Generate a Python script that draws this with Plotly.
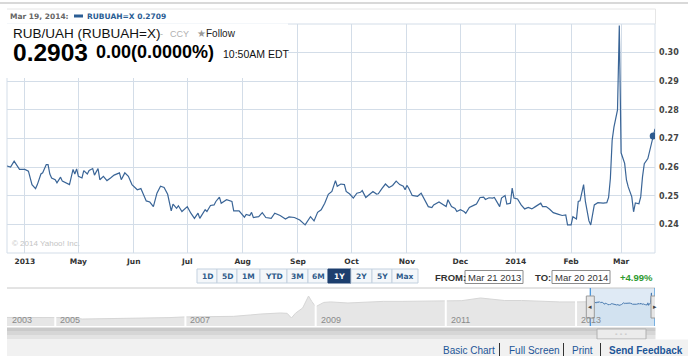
import plotly.graph_objects as go

# ---------------- data ----------------
dates = [
    "2013-03-22", "2013-03-24", "2013-03-26", "2013-03-29", "2013-04-01", "2013-04-03", "2013-04-05",
    "2013-04-07", "2013-04-08", "2013-04-10", "2013-04-11", "2013-04-13", "2013-04-14", "2013-04-15",
    "2013-04-16", "2013-04-18", "2013-04-19", "2013-04-21", "2013-04-22", "2013-04-24", "2013-04-26",
    "2013-04-28", "2013-04-29", "2013-04-30", "2013-05-01", "2013-05-03", "2013-05-04", "2013-05-06",
    "2013-05-07", "2013-05-09", "2013-05-10", "2013-05-12", "2013-05-13", "2013-05-15", "2013-05-17",
    "2013-05-19", "2013-05-21", "2013-05-24", "2013-05-25", "2013-05-27", "2013-05-29", "2013-05-31",
    "2013-06-03", "2013-06-05", "2013-06-08", "2013-06-10", "2013-06-12", "2013-06-14", "2013-06-16",
    "2013-06-18", "2013-06-20", "2013-06-22", "2013-06-23", "2013-06-25", "2013-06-26", "2013-06-28",
    "2013-07-01", "2013-07-03", "2013-07-05", "2013-07-07", "2013-07-08", "2013-07-11", "2013-07-12",
    "2013-07-14", "2013-07-16", "2013-07-17", "2013-07-19", "2013-07-20", "2013-07-23", "2013-07-26",
    "2013-07-27", "2013-07-30", "2013-08-02", "2013-08-03", "2013-08-05", "2013-08-06", "2013-08-07",
    "2013-08-10", "2013-08-12", "2013-08-14", "2013-08-17", "2013-08-19", "2013-08-22", "2013-08-25",
    "2013-08-27", "2013-08-30", "2013-09-02", "2013-09-05", "2013-09-08", "2013-09-10", "2013-09-12",
    "2013-09-14", "2013-09-16", "2013-09-18", "2013-09-20", "2013-09-22", "2013-09-23", "2013-09-25",
    "2013-09-27", "2013-09-28", "2013-09-30", "2013-10-02", "2013-10-04", "2013-10-06", "2013-10-07",
    "2013-10-09", "2013-10-11", "2013-10-13", "2013-10-15", "2013-10-16", "2013-10-18", "2013-10-20",
    "2013-10-22", "2013-10-24", "2013-10-26", "2013-10-28", "2013-10-30", "2013-10-31", "2013-11-01",
    "2013-11-02", "2013-11-04", "2013-11-07", "2013-11-09", "2013-11-11", "2013-11-13", "2013-11-15",
    "2013-11-16", "2013-11-19", "2013-11-21", "2013-11-23", "2013-11-24", "2013-11-26", "2013-11-28",
    "2013-11-29", "2013-12-01", "2013-12-03", "2013-12-04", "2013-12-06", "2013-12-09", "2013-12-10",
    "2013-12-12", "2013-12-14", "2013-12-15", "2013-12-17", "2013-12-19", "2013-12-20", "2013-12-23",
    "2013-12-24", "2013-12-26", "2013-12-27", "2013-12-29", "2013-12-30", "2013-12-31", "2014-01-02",
    "2014-01-04", "2014-01-06", "2014-01-08", "2014-01-10", "2014-01-12", "2014-01-15", "2014-01-16",
    "2014-01-18", "2014-01-20", "2014-01-22", "2014-01-25", "2014-01-27", "2014-01-29", "2014-01-30",
    "2014-02-01", "2014-02-02", "2014-02-04", "2014-02-05", "2014-02-06", "2014-02-08", "2014-02-09",
    "2014-02-11", "2014-02-12", "2014-02-13", "2014-02-14", "2014-02-16", "2014-02-19", "2014-02-21",
    "2014-02-22", "2014-02-23", "2014-02-24", "2014-02-25", "2014-02-26", "2014-02-27", "2014-02-28",
    "2014-03-01", "2014-03-03", "2014-03-04", "2014-03-05", "2014-03-06", "2014-03-07", "2014-03-08",
    "2014-03-09", "2014-03-11", "2014-03-12", "2014-03-13", "2014-03-14", "2014-03-16", "2014-03-17",
    "2014-03-19", "2014-03-20",
]
rates = [
    0.2604, 0.2600, 0.2621, 0.2592, 0.2592, 0.2586, 0.2539,
    0.2525, 0.2539, 0.2576, 0.2580, 0.2609, 0.2609, 0.2576,
    0.2562, 0.2556, 0.2545, 0.2565, 0.2551, 0.2545, 0.2539,
    0.2592, 0.2576, 0.2594, 0.2568, 0.2562, 0.2588, 0.2576,
    0.2588, 0.2595, 0.2572, 0.2595, 0.2556, 0.2568, 0.2553,
    0.2562, 0.2572, 0.2580, 0.2556, 0.2580, 0.2568, 0.2539,
    0.2521, 0.2525, 0.2482, 0.2478, 0.2462, 0.2509, 0.2533,
    0.2529, 0.2505, 0.2447, 0.2471, 0.2456, 0.2465, 0.2445,
    0.2462, 0.2439, 0.2421, 0.2439, 0.2421, 0.2451, 0.2445,
    0.2466, 0.2468, 0.2480, 0.2495, 0.2474, 0.2486, 0.2480,
    0.2447, 0.2447, 0.2425, 0.2435, 0.2431, 0.2442, 0.2424,
    0.2427, 0.2441, 0.2424, 0.2421, 0.2439, 0.2431, 0.2419,
    0.2426, 0.2424, 0.2415, 0.2398, 0.2427, 0.2412, 0.2442,
    0.2451, 0.2474, 0.2505, 0.2515, 0.2553, 0.2533, 0.2541,
    0.2539, 0.2515, 0.2506, 0.2492, 0.2509, 0.2512, 0.2518,
    0.2494, 0.2506, 0.2515, 0.2506, 0.2507, 0.2525, 0.2541,
    0.2529, 0.2536, 0.2551, 0.2539, 0.2533, 0.2521, 0.2536,
    0.2527, 0.2501, 0.2498, 0.2509, 0.2486, 0.2462, 0.2459,
    0.2468, 0.2478, 0.2471, 0.2462, 0.2486, 0.2462, 0.2456,
    0.2445, 0.2451, 0.2445, 0.2439, 0.2459, 0.2468, 0.2471,
    0.2494, 0.2495, 0.2487, 0.2493, 0.2492, 0.2494, 0.2462,
    0.2492, 0.2501, 0.2471, 0.2474, 0.2527, 0.2492, 0.2489,
    0.2468, 0.2454, 0.2459, 0.2454, 0.2462, 0.2474, 0.2462,
    0.2462, 0.2453, 0.2441, 0.2435, 0.2431, 0.2433, 0.2398,
    0.2398, 0.2427, 0.2419, 0.2480, 0.2482, 0.2539, 0.2480,
    0.2412, 0.2398, 0.2439, 0.2468, 0.2476, 0.2474, 0.2476,
    0.2494, 0.2560, 0.2694, 0.2740, 0.2770, 0.2800, 0.3095,
    0.2650, 0.2613, 0.2555, 0.2531, 0.2514, 0.2496, 0.2444,
    0.2475, 0.2472, 0.2496, 0.2566, 0.2612, 0.2630, 0.2659,
    0.2709, 0.2734,
]

# long-history navigator series
nav_dates = [
    "2004-04-05", "2004-09-01", "2005-01-15", "2005-04-10", "2005-06-01", "2005-11-05", "2006-02-01",
    "2006-06-17", "2006-10-01", "2007-01-01", "2007-05-01", "2007-09-27", "2008-01-01", "2008-02-25",
    "2008-06-17", "2008-07-25", "2008-08-18", "2008-09-10", "2008-10-20", "2008-11-05", "2008-11-22",
    "2008-12-10", "2009-01-01", "2009-02-15", "2009-03-25", "2009-07-01", "2009-10-01", "2010-01-15",
    "2010-05-01", "2010-09-01", "2011-01-01", "2011-04-01", "2011-07-15", "2011-09-15", "2011-11-25",
    "2012-03-01", "2012-06-15", "2012-10-01", "2013-01-01", "2013-03-21",
]
nav_rates = [
    0.172, 0.172, 0.172, 0.171, 0.163, 0.165, 0.164,
    0.168, 0.171, 0.175, 0.176, 0.178, 0.186, 0.191,
    0.197, 0.195, 0.169, 0.196, 0.225, 0.262, 0.292,
    0.262, 0.232, 0.256, 0.259, 0.253, 0.258, 0.262,
    0.262, 0.264, 0.264, 0.266, 0.281, 0.274, 0.267,
    0.267, 0.262, 0.259, 0.259, 0.260,
]
nav_band_labels = ["2003", "2005", "2007", "2009", "2011", "2013"]
nav_band_starts = ["2003-01-01", "2005-01-01", "2007-01-01", "2009-01-01", "2011-01-01", "2013-01-01"]

x_tick_vals = ["2013-04-01", "2013-05-01", "2013-06-01", "2013-07-01", "2013-08-01", "2013-09-01",
               "2013-10-01", "2013-11-01", "2013-12-01", "2014-01-01", "2014-02-01", "2014-03-01"]
x_tick_text = ["2013", "May", "Jun", "Jul", "Aug", "Sep", "Oct", "Nov", "Dec", "2014", "Feb", "Mar"]
y_tick_vals = [0.24, 0.25, 0.26, 0.27, 0.28, 0.29, 0.30]
y_tick_text = ["0.24", "0.25", "0.26", "0.27", "0.28", "0.29", "0.30"]

symbol = "RUBUAH=X"
title_text = "RUB/UAH (RUBUAH=X)"
legend_date_label = "Mar 19, 2014:"
legend_date = "2014-03-19"
last_price = "0.2903"
change_text = "0.00(0.0000%)"
time_text = "10:50AM EDT"
from_text = "Mar 21 2013"
to_text = "Mar 20 2014"
pct_text = "+4.99%"
range_buttons = ["1D", "5D", "1M", "YTD", "3M", "6M", "1Y", "2Y", "5Y", "Max"]
selected_button = "1Y"
footer_links = ["Basic Chart", "Full Screen", "Print", "Send Feedback"]

main_range = ["2013-03-22", "2014-03-20"]
nav_range = ["2004-04-05", "2014-03-20"]

# ---------------- layout helpers ----------------
W, H = 688, 356
ML, MR, MT, MB = 7, 33, 24, 30
PW = W - ML - MR
PH = H - MT - MB


def px(x):
    return (x - ML) / PW


def py(y):
    return (H - MB - y) / PH


LINE = "#3a6597"
GRID = "#d3dde8"
SANS = "Liberation Sans, Arial, sans-serif"
VERD = "DejaVu Sans, Verdana, sans-serif"

legend_value = rates[dates.index(legend_date)]

fig = go.Figure()

# navigator gray history
fig.add_trace(go.Scatter(
    x=nav_dates, y=nav_rates, xaxis="x2", yaxis="y2", mode="lines",
    line=dict(color="#d6d6d6", width=1), fill="tozeroy", fillcolor="#e6e6e6",
    hoverinfo="skip", showlegend=False))
# navigator selected window
fig.add_trace(go.Scatter(
    x=dates, y=rates, xaxis="x2", yaxis="y2", mode="lines",
    line=dict(color="#4a7bb0", width=1), fill="tozeroy", fillcolor="#d2e2f0",
    hoverinfo="skip", showlegend=False))
# main line
fig.add_trace(go.Scatter(
    x=dates, y=rates, mode="lines", line=dict(color=LINE, width=1.2),
    showlegend=False, hoverinfo="x+y"))
fig.add_trace(go.Scatter(
    x=[legend_date], y=[legend_value], mode="markers",
    marker=dict(color="#2c5a8f", size=7), showlegend=False, hoverinfo="skip"))

shapes = []
annotations = []


def ann(text, x, y, size, color, family=SANS, bold=False, xanchor="left", yanchor="middle"):
    annotations.append(dict(
        text=text, x=x, y=y, xref="paper", yref="paper", showarrow=False,
        xanchor=xanchor, yanchor=yanchor, borderpad=0,
        font=dict(family=family, size=size, color=color, weight="bold" if bold else "normal")))


def rect(x0, y0, x1, y1, fill, line=None, lw=1, layer="above"):
    shapes.append(dict(type="rect", xref="paper", yref="paper",
                       x0=px(x0), x1=px(x1), y0=py(y1), y1=py(y0),
                       fillcolor=fill, line=dict(color=line or fill, width=lw if line else 0),
                       layer=layer))


# top page line and outer frame
shapes.append(dict(type="line", xref="paper", yref="paper", x0=px(0), x1=px(688), y0=py(3), y1=py(3),
                   line=dict(color="#d9d9d9", width=2)))
shapes.append(dict(type="line", xref="paper", yref="paper", x0=px(7), x1=px(655.5), y0=py(9), y1=py(9),
                   line=dict(color="#e6e6e6", width=1)))
shapes.append(dict(type="line", xref="paper", yref="paper", x0=px(655.5), x1=px(655.5), y0=py(9), y1=py(24),
                   line=dict(color="#e6e6e6", width=1)))
# main plot border (0.23 and 0.31 lines + sides)
shapes.append(dict(type="rect", xref="x domain", yref="y domain", x0=0, x1=1, y0=0, y1=1,
                   line=dict(color=GRID, width=1), layer="below"))
# header white box
rect(5, 23.5, 288, 78, "#ffffff", layer="above")

# legend row
ann(legend_date_label, px(9), py(16.5), 7.5, "#666666", VERD, True)
shapes.append(dict(type="line", xref="paper", yref="paper", x0=px(74), x1=px(83), y0=py(16), y1=py(16),
                   line=dict(color="#2a5d94", width=3)))
ann(f"{symbol} {legend_value:.4f}", px(86), py(16.5), 7.5, "#2a5d94", VERD, True)

# header texts
ann(title_text, px(12), py(33), 13.5, "#111111")
ann("-", px(159), py(33.5), 9, "#b0b0b0")
ann("CCY", px(169), py(33.5), 9, "#b0b0b0")
ann("\u2605", px(196), py(33), 10, "#999999", VERD)
ann("Follow", px(205), py(34), 10, "#222222")
ann(last_price, px(12), py(52), 24.5, "#000000", bold=True)
ann(change_text, px(95), py(52.5), 18, "#000000", bold=True)
ann(time_text, px(222), py(53.5), 10.5, "#111111")

# copyright
ann("\u00a9 2014 Yahoo! Inc.", px(11), py(243), 8, "#c4c4c4")

# range buttons
btn_widths = [20, 20, 23, 27, 21, 20, 23, 21, 20, 26]
bx = 197
for lab, w in zip(range_buttons, btn_widths):
    sel = lab == selected_button
    rect(bx, 269, bx + w, 283, "#1d3f6e" if sel else "#f4f7fa", "#1d3f6e" if sel else "#c3d1df", 1)
    ann(lab, px(bx + w / 2), py(276.5), 7.5, "#ffffff" if sel else "#2f5b8a", VERD, True, xanchor="center")
    bx += w

ann("FROM:", px(434), py(277), 9.5, "#333333", bold=True)
rect(465, 270.5, 523, 283.5, "#ffffff", "#8c8c8c", 1)
ann(from_text, px(494), py(277), 9.5, "#333333", xanchor="center")
ann("TO:", px(534), py(277), 9.5, "#333333", bold=True)
rect(552, 270.5, 610, 283.5, "#ffffff", "#8c8c8c", 1)
ann(to_text, px(581), py(277), 9.5, "#333333", xanchor="center")
ann(pct_text, px(619), py(277), 9.5, "#2f9a2f", bold=True)

# navigator decorations
shapes.append(dict(type="line", xref="paper", yref="paper", x0=0, x1=1, y0=py(288), y1=py(288),
                   line=dict(color="#c8c8c8", width=1)))
for s in nav_band_starts[1:]:
    shapes.append(dict(type="line", xref="x2", yref="y2 domain", x0=s, x1=s, y0=0, y1=0.93,
                       line=dict(color="#ffffff", width=2), layer="above"))
for lab, s in zip(nav_band_labels, nav_band_starts):
    xpos = max(s, nav_range[0])
    annotations.append(dict(text=lab, x=xpos, y=0.16, xref="x2", yref="y2 domain", showarrow=False,
                            xanchor="left", yanchor="middle", xshift=3,
                            font=dict(family=SANS, size=9, color="#8a8a8a")))
# selection background, edges and handles
shapes.append(dict(type="rect", xref="x2", yref="y2 domain", x0=dates[0], x1=dates[-1], y0=0, y1=1,
                   fillcolor="#dfeaf5", line=dict(width=0), layer="below"))
for d, arrow in [(dates[0], "\u25c2"), (dates[-1], "\u25b8")]:
    shapes.append(dict(type="line", xref="x2", yref="y2 domain", x0=d, x1=d, y0=0, y1=1,
                       line=dict(color="#3d8fd8", width=1.2), layer="above"))
    shapes.append(dict(type="rect", xref="x2", yref="paper", xsizemode="pixel", xanchor=d, x0=-4, x1=4,
                       y0=py(318), y1=py(296), fillcolor="#e6e6e6",
                       line=dict(color="#9a9a9a", width=1), layer="above"))
    annotations.append(dict(text=arrow, x=d, y=py(307), xref="x2", yref="paper", showarrow=False,
                            xanchor="center", yanchor="middle",
                            font=dict(family=VERD, size=7, color="#444444")))

# scrollbar
rect(7, 327.5, 655.5, 331, "#c9c9c9")
rect(7, 331, 655.5, 335, "#d6d6d6")
rect(7, 335, 655.5, 339.5, "#e3e3e3")
rect(597, 329, 646, 339, "#ebebeb", "#b0b0b0", 1)
ann("- - -", px(621.5), py(334), 7, "#a0a0a0", VERD, xanchor="center")

# footer band + links
rect(7, 339.5, 688, 356, "#f1f1f1")
link_x = [442, 508, 571, 608]
for i, (lab, lx) in enumerate(zip(footer_links, link_x)):
    ann(lab, px(lx), py(350), 10, "#1d5698", bold=(i == len(footer_links) - 1))
for sx in [499.5, 563.5, 600.5]:
    shapes.append(dict(type="line", xref="paper", yref="paper", x0=px(sx), x1=px(sx), y0=py(343), y1=py(356),
                       line=dict(color="#333333", width=1)))

fig.update_layout(
    width=W, height=H,
    margin=dict(l=ML, r=MR, t=MT, b=MB),
    paper_bgcolor="#ffffff", plot_bgcolor="#ffffff",
    showlegend=False,
    xaxis=dict(type="date", range=main_range, domain=[0, 1], anchor="y",
               tickvals=x_tick_vals, ticktext=x_tick_text, ticks="",
               showgrid=True, gridcolor=GRID, gridwidth=1, zeroline=False, showline=False,
               ticklabelstandoff=2,
               tickfont=dict(family=VERD, size=7.5, color="#333333", weight="bold"),
               fixedrange=True),
    yaxis=dict(range=[0.23, 0.31], domain=[py(253), 1], anchor="x", side="right",
               tickvals=y_tick_vals, ticktext=y_tick_text, ticks="",
               showgrid=True, gridcolor=GRID, gridwidth=1, zeroline=False, showline=False,
               ticklabelstandoff=3,
               tickfont=dict(family=VERD, size=8, color="#444444", weight="bold"),
               fixedrange=True),
    xaxis2=dict(type="date", range=nav_range, domain=[0, 1], anchor="y2",
                showgrid=False, showticklabels=False, ticks="", zeroline=False, fixedrange=True),
    yaxis2=dict(range=[0.124, 0.337], domain=[0, py(288)], anchor="x2",
                showgrid=False, showticklabels=False, ticks="", zeroline=False, fixedrange=True),
    shapes=shapes,
    annotations=annotations,
)

fig.write_html("out.html", config={"displayModeBar": False},
               post_script="document.body.style.margin='0';document.body.style.padding='0';")
